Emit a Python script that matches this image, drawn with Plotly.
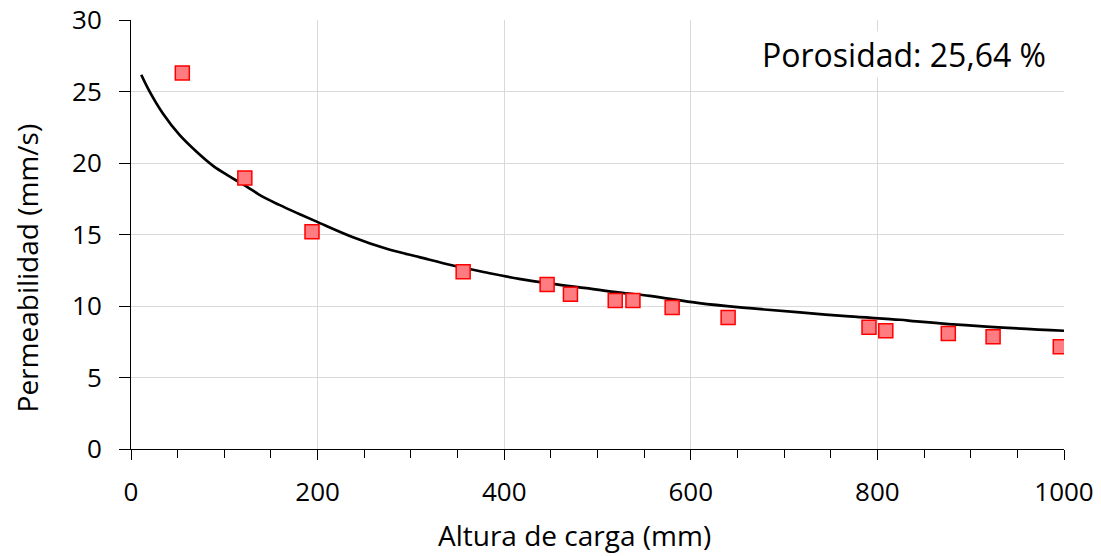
import plotly.graph_objects as go

# Measured permeability vs. head height
altura = [55, 122, 194, 356, 446, 471, 519, 538, 580, 640, 791, 809, 876, 924, 996]
permeabilidad = [26.3, 18.95, 15.2, 12.4, 11.5, 10.83, 10.39, 10.39, 9.9, 9.2, 8.52, 8.27, 8.08, 7.85, 7.15]

# Trend curve points
curva_x = [11, 20, 34, 52, 70, 88, 106, 124, 141, 159, 177, 199, 238, 274, 309, 345,
           381, 416, 452, 488, 524, 556, 609, 663, 717, 770, 824, 842, 913, 1000]
curva_y = [26.17, 24.99, 23.48, 21.96, 20.8, 19.8, 19.05, 18.35, 17.65, 17.07, 16.53,
           15.9, 14.81, 14.0, 13.42, 12.83, 12.34, 11.9, 11.55, 11.25, 10.94, 10.71,
           10.2, 9.85, 9.55, 9.27, 9.04, 8.92, 8.57, 8.27]

x_ticks = [0, 200, 400, 600, 800, 1000]
y_ticks = [0, 5, 10, 15, 20, 25, 30]

FONT = "Open Sans"

fig = go.Figure()
fig.add_trace(go.Scatter(
    x=curva_x, y=curva_y, mode="lines",
    line=dict(color="black", width=2.7, shape="spline"),
    showlegend=False, hoverinfo="skip",
))
fig.add_trace(go.Scatter(
    x=altura, y=permeabilidad, mode="markers",
    marker=dict(symbol="square", size=14, color="rgb(255,125,128)",
                line=dict(color="rgb(255,0,0)", width=1.5)),
    showlegend=False,
))

fig.add_annotation(
    x=0.983, y=0.92, xref="paper", yref="paper", xanchor="right", yanchor="middle",
    text="Porosidad: 25,64 %", showarrow=False, bgcolor="white",
    font=dict(family=FONT, size=32, color="black"),
)

# Axis titles, placed as free text
fig.add_annotation(
    x=0.475, y=-0.2, xref="paper", yref="paper", xanchor="center", yanchor="middle",
    text="Altura de carga (mm)", showarrow=False,
    font=dict(family=FONT, size=28, color="black"),
)
fig.add_annotation(
    x=-0.112, y=0.422, xref="paper", yref="paper", xanchor="center", yanchor="middle",
    text="Permeabilidad (mm/s)", showarrow=False, textangle=-90,
    font=dict(family=FONT, size=28, color="black"),
)

fig.update_xaxes(
    range=[0, 1000], tickvals=x_ticks, ticktext=[str(v) for v in x_ticks],
    showline=True, linecolor="black", linewidth=1, automargin=False,
    ticks="outside", ticklen=10, tickcolor="black", tickwidth=1,
    minor=dict(ticks="outside", ticklen=8, dtick=50, tick0=0, tickcolor="black", showgrid=False),
    showgrid=True, gridcolor="#d9d9d9", gridwidth=1, zeroline=False,
    tickfont=dict(family=FONT, size=26, color="black"),
    ticklabelstandoff=10,
)
fig.update_yaxes(
    range=[0, 30], tickvals=y_ticks, ticktext=[str(v) for v in y_ticks],
    showline=True, linecolor="black", linewidth=1, automargin=False,
    ticks="outside", ticklen=11, tickcolor="black", tickwidth=1,
    showgrid=True, gridcolor="#d9d9d9", gridwidth=1, zeroline=False,
    tickfont=dict(family=FONT, size=26, color="black"),
    ticklabelstandoff=12,
)

fig.update_layout(
    width=1101, height=556,
    margin=dict(l=131, r=37, t=20, b=107),
    paper_bgcolor="white", plot_bgcolor="white",
)

fig.write_html("out.html")
